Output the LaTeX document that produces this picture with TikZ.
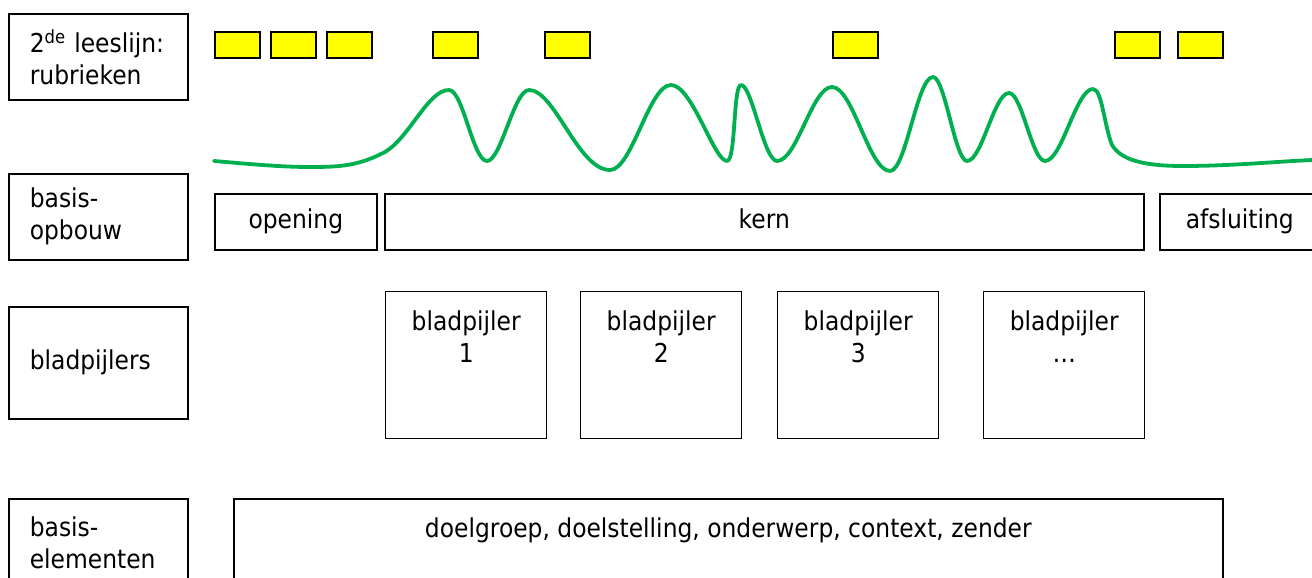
\documentclass[tikz,border=0pt]{standalone}
\usepackage{fontspec}
\setmainfont{DejaVu Sans}[FakeStretch=0.9]
\definecolor{wavegreen}{RGB}{0,176,80}
\definecolor{boxyellow}{RGB}{255,255,0}
\begin{document}
\begin{tikzpicture}[x=1pt,y=-1pt,
  every node/.style={font=\fontsize{26}{32}\selectfont},
  lbl/.style={draw, line width=1.6pt, anchor=north west, minimum width=179pt, inner xsep=21pt, inner ysep=0pt, text width=137pt, align=left},
  rowbox/.style={draw, line width=1.6pt, anchor=north west, minimum height=56pt, inner sep=0pt, text height=19pt, text depth=6pt},
  pillar/.style={draw, line width=1.4pt, anchor=north west, inner sep=0pt},
  rub/.style={draw, line width=1.6pt, fill=boxyellow, anchor=north west, minimum width=45pt, minimum height=26pt, inner sep=0pt},
  wave/.style={draw=wavegreen, line width=3.8pt, line cap=round, line join=round}]
\useasboundingbox (0,0) rectangle (1312,578);

% left labels
\node[lbl, minimum height=86pt] (l1) at (8,13) {2\textsuperscript{de} leeslijn:\\rubrieken};
\node[lbl, minimum height=86pt] (l2) at (8,173) {basis-\\opbouw};
\node[lbl, minimum height=112pt] (l3) at (8,306) {bladpijlers};
\node[lbl, minimum height=88pt] (l4) at (8,498) {basis-\\elementen};

% rubrieken
\node[rub] (r1) at (214,31) {};
\node[rub] (r2) at (270,31) {};
\node[rub] (r3) at (326,31) {};
\node[rub] (r4) at (432,31) {};
\node[rub] (r5) at (544,31) {};
\node[rub] (r6) at (832,31) {};
\node[rub] (r7) at (1114,31) {};
\node[rub] (r8) at (1177,31) {};

% wave
\draw[wave] (214,161)
  .. controls (250,164) and (280,167) .. (310,167)
  .. controls (340,167) and (358,166) .. (385,152)
  .. controls (410,137) and (428,90) .. (449,90)
  .. controls (463,90) and (473,161) .. (487,161)
  .. controls (501,161) and (514,90) .. (529,90)
  .. controls (555,90) and (578,170) .. (610,170)
  .. controls (632,170) and (649,85) .. (671,85)
  .. controls (692,85) and (714,161) .. (727,161)
  .. controls (736,161) and (733,85) .. (741,85)
  .. controls (752,85) and (764,161) .. (777,161)
  .. controls (797,161) and (812,87) .. (832,87)
  .. controls (853,87) and (869,171) .. (890,171)
  .. controls (906,171) and (917,77) .. (933,77)
  .. controls (945,77) and (955,161) .. (967,161)
  .. controls (982,161) and (994,93) .. (1009,93)
  .. controls (1022,93) and (1032,161) .. (1045,161)
  .. controls (1062,161) and (1076,89) .. (1093,89)
  .. controls (1102,89) and (1104,125) .. (1112,145)
  .. controls (1122,162) and (1150,166) .. (1183,166)
  .. controls (1230,166) and (1270,162) .. (1312,160);

% basisopbouw
\node[rowbox, minimum width=162pt] (open) at (214,193) {opening};
\node[rowbox, minimum width=759pt] (kern) at (384,193) {kern};
\node[rowbox, minimum width=160pt] (afsl) at (1159,193) {afsluiting};

% bladpijlers
\node[pillar] (p1) at (385,291) {\parbox[c][147pt][t]{161pt}{\centering\vspace{19pt}bladpijler\\1}};
\node[pillar] (p2) at (580,291) {\parbox[c][147pt][t]{161pt}{\centering\vspace{19pt}bladpijler\\2}};
\node[pillar] (p3) at (777,291) {\parbox[c][147pt][t]{161pt}{\centering\vspace{19pt}bladpijler\\3}};
\node[pillar] (p4) at (983,291) {\parbox[c][147pt][t]{161pt}{\centering\vspace{19pt}bladpijler\\\ldots}};

% basiselementen
\node[pillar, line width=1.6pt] (elem) at (233,498) {\parbox[c][92pt][t]{989pt}{\centering\vspace{19pt}doelgroep, doelstelling, onderwerp, context, zender}};
\end{tikzpicture}
\end{document}
